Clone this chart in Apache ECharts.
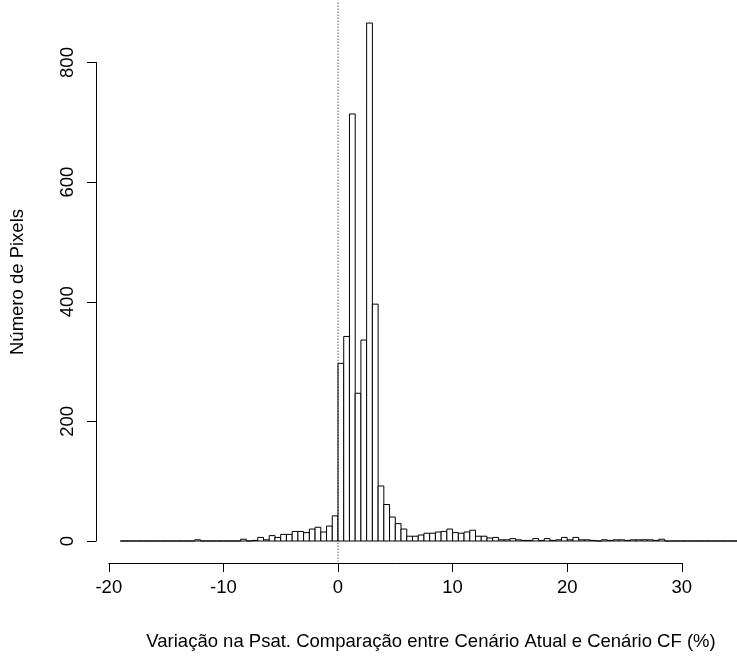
<!DOCTYPE html>
<html>
<head>
<meta charset="utf-8">
<script src="https://cdn.jsdelivr.net/npm/echarts@6/dist/echarts.min.js"></script>
<style>
html,body{margin:0;padding:0;background:#fff;}
#chart{width:737px;height:657px;}
</style>
</head>
<body>
<div id="chart"></div>
<script>
// Histogram bins: left edges start at binStart, width binWidth
const binStart = -19;
const binWidth = 0.5;
const counts = [
  0,0,0,0,0,0,0,0,0,0,0,0,0,      // -19 .. -13
  2,0,0,0,0,0,0,0,                 // -12.5 .. -9.5
  3,0,1,6,2,9,6,11,11,16,16,14,20,23,15,25,42, // -9 .. -1
  297,342,714,247,336,866,396,92,61,40,29,20,8,8,10,13,13, // -0.5 .. 7.5
  15,16,20,14,13,15,18,8,8,5,6,2,2,4,2,1,1,4,1,4,           // 8 .. 17.5
  1,2,6,2,6,2,2,1,0,2,1,2,2,1,2,2,2,2,1,3,                  // 18 .. 27.5
  0,0,0,0,0,0,0,0,0,0,0,0,0,0                               // 28 .. 34.5
];
const xTicks = [-20, -10, 0, 10, 20, 30];
const yTicks = [0, 200, 400, 600, 800];
const refLineX = 0;
const xTitle = 'Variação na Psat. Comparação entre Cenário Atual e Cenário CF (%)';
const yTitle = 'Número de Pixels';

const barData = counts.map((c, i) => [binStart + i * binWidth, binStart + (i + 1) * binWidth, c]);

const chart = echarts.init(document.getElementById('chart'), null, {renderer: 'canvas'});
const font = 'Liberation Sans, Arial, Helvetica, sans-serif';
const fs = 18.5;

chart.setOption({
  animation: false,
  backgroundColor: '#fff',
  grid: {left: 108.8, right: 55.2, top: 62.5, bottom: 116, containLabel: false},
  xAxis: {
    type: 'value', min: xTicks[0], max: xTicks[xTicks.length - 1], interval: 10,
    offset: 22,
    axisLine: {show: true, onZero: false, lineStyle: {color: '#000', width: 1}},
    axisTick: {show: true, inside: false, length: 9, lineStyle: {color: '#000'}},
    axisLabel: {show: true, color: '#000', fontSize: fs, fontFamily: font, margin: 15},
    splitLine: {show: false}
  },
  yAxis: {
    type: 'value', min: yTicks[0], max: yTicks[yTicks.length - 1], interval: 200,
    offset: 12.8,
    axisLine: {show: true, onZero: false, lineStyle: {color: '#000', width: 1}},
    axisTick: {show: true, inside: false, length: 9, lineStyle: {color: '#000'}},
    axisLabel: {show: true, color: '#000', fontSize: fs, fontFamily: font, rotate: 90, margin: 19},
    splitLine: {show: false}
  },
  graphic: [
    {type: 'text', x: 431, y: 642,
     style: {text: xTitle, fill: '#000', font: fs + 'px ' + font, textAlign: 'center', textVerticalAlign: 'middle'}},
    {type: 'text', x: 18, y: 282, rotation: Math.PI / 2,
     style: {text: yTitle, fill: '#000', font: fs + 'px ' + font, textAlign: 'center', textVerticalAlign: 'middle'}}
  ],
  series: [
    {
      type: 'custom',
      clip: false,
      data: barData,
      renderItem: function (params, api) {
        const p0 = api.coord([api.value(0), api.value(2)]);
        const p1 = api.coord([api.value(1), 0]);
        return {
          type: 'rect',
          shape: {x: p0[0], y: p0[1], width: p1[0] - p0[0], height: p1[1] - p0[1]},
          style: {fill: '#fff', stroke: '#000', lineWidth: 1}
        };
      }
    },
    {
      type: 'custom',
      clip: false,
      data: [[refLineX]],
      z: 5,
      renderItem: function (params, api) {
        const top = api.coord([api.value(0), 900]);
        const bot = api.coord([api.value(0), -34]);
        return {
          type: 'line',
          shape: {x1: top[0], y1: top[1], x2: bot[0], y2: bot[1]},
          style: {stroke: '#000', lineWidth: 1, lineDash: [1, 2]}
        };
      }
    }
  ]
});
</script>
</body>
</html>
